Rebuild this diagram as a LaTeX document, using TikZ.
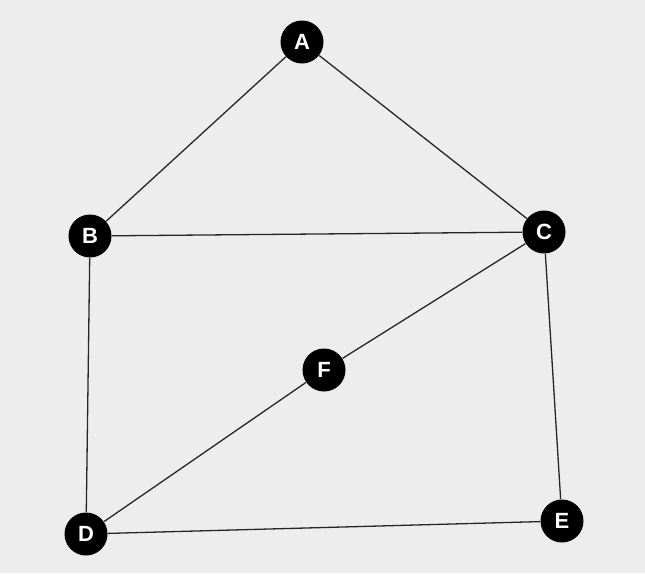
\documentclass[tikz,border=0pt]{standalone}
\usepackage{fontspec}
\setmainfont{Liberation Sans}
\usepackage{tikz}
\usetikzlibrary{positioning}

\begin{document}
\begin{tikzpicture}[x=1pt, y=-1pt, thick,
    vert/.style={circle, fill=black, minimum size=43pt, inner sep=0pt,
      text=white, font=\fontsize{22}{22}\selectfont\bfseries},
    link/.style={draw=black!85, line width=1.3pt}]
   \fill[black!7] (0,0) rectangle (645,573);
   \useasboundingbox (0,0) rectangle (645,573);

   \node[vert] (A) at (302,42)  {A};
   \node[vert] (B) at (90,236)  {B};
   \node[vert] (C) at (544,232) {C};
   \node[vert] (F) at (324,370) {F};
   \node[vert] (D) at (86,534)  {D};
   \node[vert] (E) at (562,521) {E};

   \path[link]
    (A) edge (B)
    (A) edge (C)
    (B) edge (C)
    (B) edge (D)
    (C) edge (F)
    (F) edge (D)
    (C) edge (E)
    (D) edge (E);
\end{tikzpicture}
\end{document}
